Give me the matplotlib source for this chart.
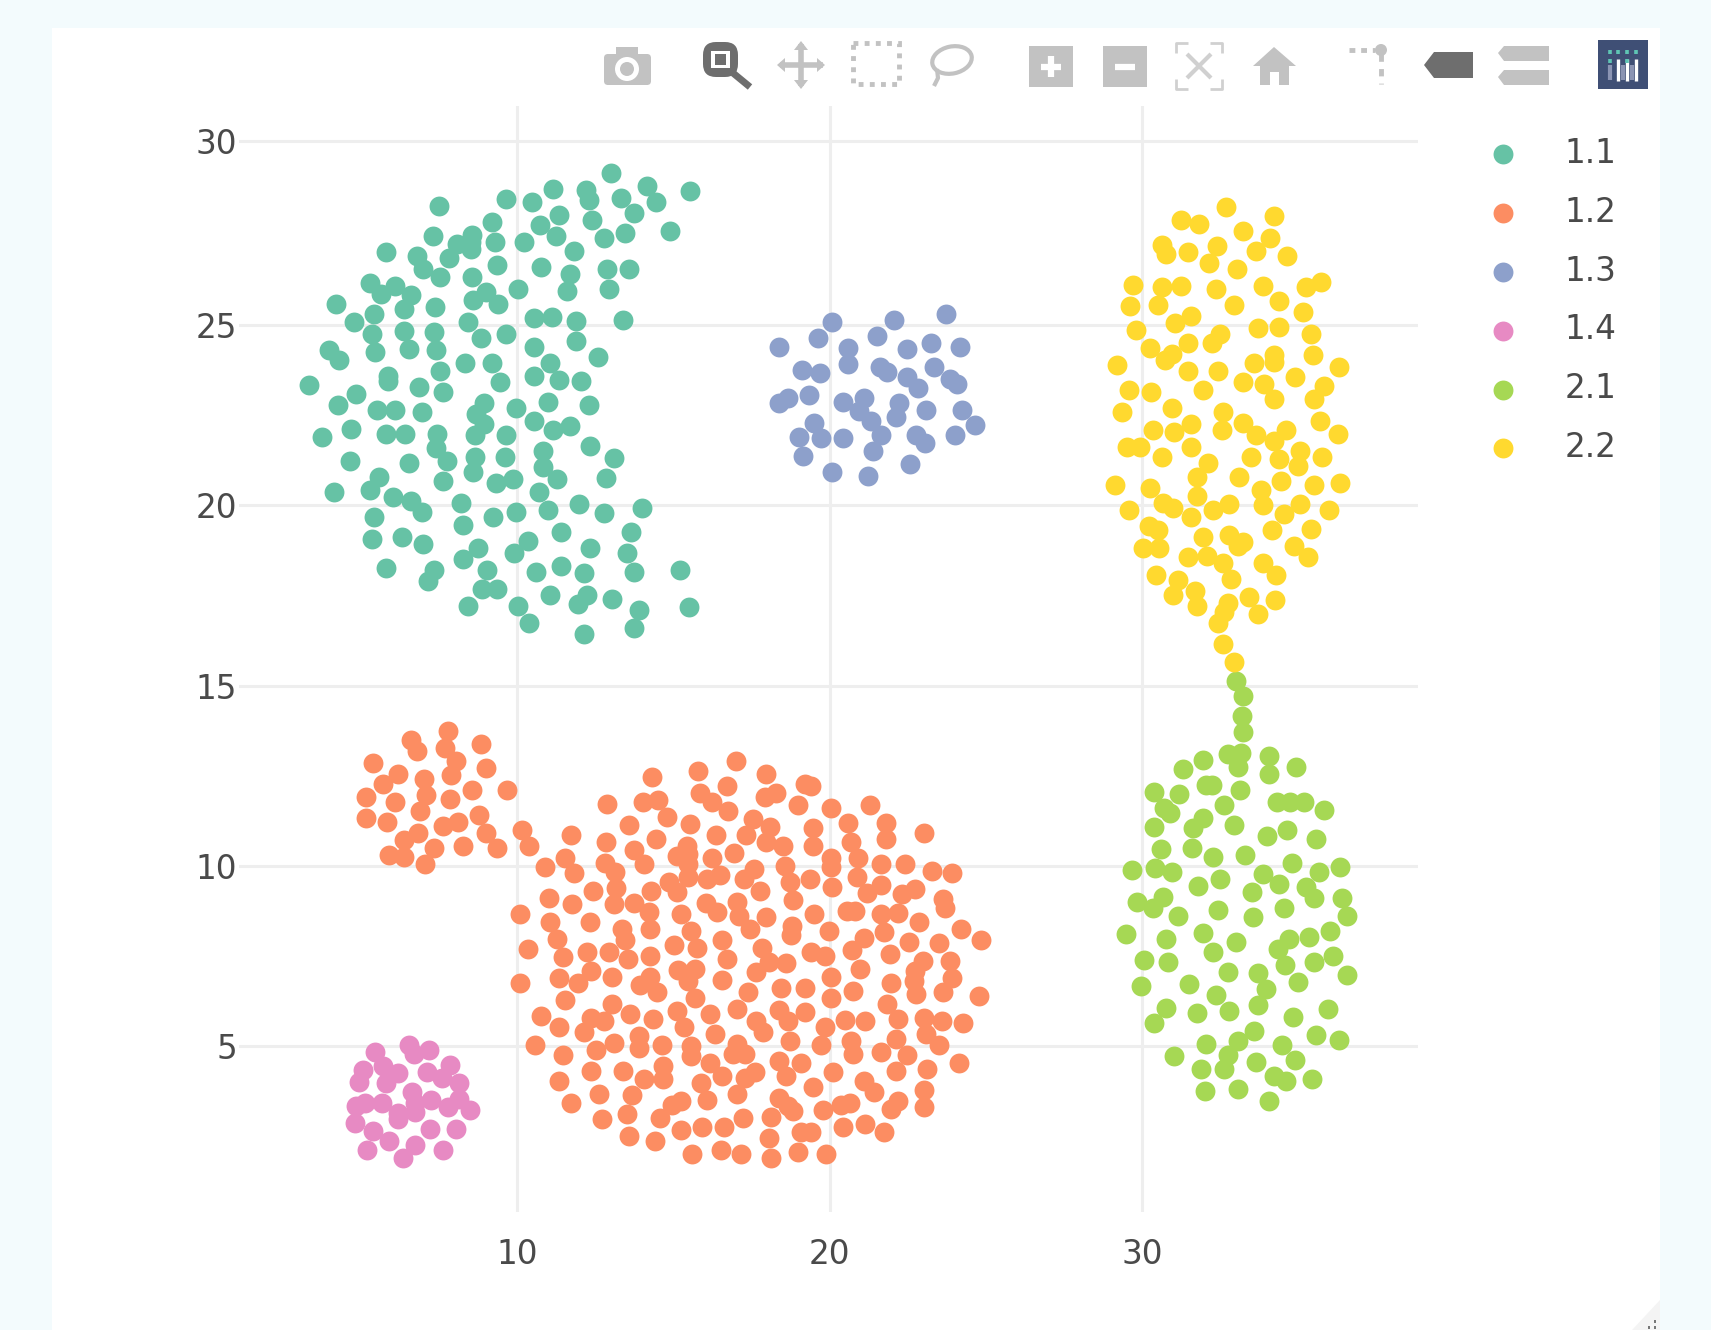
import matplotlib
matplotlib.use("Agg")
import matplotlib.pyplot as plt
from matplotlib.patches import Rectangle, FancyBboxPatch, Circle, Ellipse, Polygon

labels = ["1.1", "1.2", "1.3", "1.4", "2.1", "2.2"]
colors = ["#66c2a5", "#fc8d62", "#8da0cb", "#e78ac3", "#a6d854", "#ffd92f"]
x_ticks = [10, 20, 30]
y_ticks = [5, 10, 15, 20, 25, 30]
y_tick_labels = ["5", "10", "15", "20", "25", "30"]

pts_11 = [(13.0,29.22),(14.15,28.87),(15.54,28.72),(11.14,28.78),(12.19,28.74),(12.29,28.48),(9.65,28.51),(10.49,28.42),(13.34,28.52),(14.45,28.42),
(7.49,28.31),(13.75,28.12),(11.35,28.07),(12.39,27.92),(9.19,27.87),(10.75,27.77),(14.9,27.62),(13.46,27.56),(12.78,27.42),(8.55,27.51),
(11.24,27.46),(7.3,27.47),(8.07,27.26),(8.53,27.32),(8.52,27.11),(9.3,27.31),(10.23,27.31),(11.83,27.05),(5.81,27.02),(6.79,26.93),
(7.84,26.85),(6.98,26.56),(9.35,26.66),(10.76,26.61),(12.88,26.57),(13.59,26.57),(11.7,26.42),(7.54,26.35),(8.55,26.35),(12.93,26.0),
(11.59,25.95),(10.04,26.0),(5.3,26.17),(6.1,26.09),(6.6,25.84),(5.64,25.87),(9.0,25.91),(8.58,25.7),(9.4,25.59),(4.2,25.6),
(6.4,25.45),(7.39,25.5),(5.42,25.3),(4.79,25.1),(8.44,25.1),(10.54,25.21),(11.11,25.24),(11.9,25.11),(13.4,25.15),(5.35,24.75),
(6.4,24.84),(7.35,24.81),(9.65,24.75),(8.86,24.65),(11.89,24.55),(10.54,24.4),(7.4,24.3),(6.56,24.35),(5.46,24.26),(4.0,24.31),
(4.3,24.04),(12.6,24.11),(8.35,23.94),(9.2,23.94),(11.04,23.94),(7.55,23.74),(5.88,23.59),(5.86,23.44),(10.54,23.59),(11.35,23.49),
(12.04,23.45),(3.35,23.34),(9.46,23.41),(6.87,23.28),(7.64,23.14),(4.86,23.08),(4.29,22.79),(8.96,22.83),(11.0,22.88),(12.3,22.79),
(9.96,22.69),(5.51,22.64),(6.11,22.64),(6.95,22.58),(8.68,22.53),(10.54,22.34),(8.96,22.25),(11.71,22.19),(11.14,22.08),(4.69,22.13),
(3.78,21.89),(5.81,21.98),(6.41,21.98),(7.45,21.98),(8.66,21.94),(9.65,21.94),(7.4,21.6),(12.33,21.65),(10.84,21.52),(13.1,21.32),
(7.75,21.22),(8.66,21.33),(9.6,21.33),(4.65,21.24),(6.56,21.18),(10.84,21.07),(8.6,20.94),(5.6,20.8),(12.85,20.77),(11.29,20.72),
(9.88,20.74),(9.33,20.63),(7.64,20.67),(5.29,20.43),(4.15,20.38),(10.7,20.38),(6.04,20.23),(6.61,20.13),(8.2,20.07),(6.95,19.81),
(9.96,19.82),(11.0,19.87),(11.99,20.03),(12.78,19.78),(14.01,19.93),(5.42,19.68),(9.24,19.68),(8.28,19.46),(11.41,19.26),(13.64,19.26),
(5.35,19.06),(6.31,19.13),(7.0,18.92),(10.36,19.02),(8.74,18.83),(12.33,18.83),(9.9,18.67),(13.51,18.67),(8.28,18.52),(5.81,18.27),
(9.05,18.22),(7.35,18.22),(10.6,18.16),(11.4,18.31),(12.14,18.13),(13.74,18.16),(15.21,18.22),(7.16,17.91),(8.89,17.67),(9.35,17.69),
(11.06,17.51),(12.25,17.51),(11.94,17.26),(13.05,17.4),(8.44,17.21),(10.04,17.21),(13.9,17.11),(15.51,17.17),(10.39,16.75),(13.74,16.6),(12.14,16.42)]

pts_12 = [(7.78,13.73),(6.6,13.49),(6.79,13.18),(7.7,13.27),(8.86,13.37),(8.05,12.9),(5.41,12.86),(9.01,12.72),(6.19,12.55),(7.9,12.52),
(7.03,12.42),(5.71,12.27),(8.55,12.11),(9.69,12.11),(5.18,11.9),(7.09,11.96),(7.86,11.86),(6.1,11.76),(6.89,11.52),(5.16,11.34),
(8.8,11.41),(5.85,11.21),(8.1,11.21),(7.64,11.11),(10.15,11.0),(9.01,10.9),(6.84,10.91),(6.4,10.71),(8.28,10.55),(9.35,10.49),
(7.36,10.49),(10.39,10.55),(5.91,10.3),(6.4,10.24),(7.06,10.05),(10.9,9.97),
(16.99,12.91),(15.79,12.64),(14.31,12.48),(17.97,12.54),(16.7,12.22),(19.2,12.27),(19.41,12.22),(15.84,12.03),(18.29,12.03),(17.92,11.92),
(14.03,11.78),(14.51,11.82),(12.88,11.73),(16.24,11.76),(18.99,11.68),(20.03,11.61),(21.28,11.69),(16.75,11.51),(14.78,11.37),(17.55,11.31),
(13.58,11.13),(15.52,11.17),(20.59,11.18),(21.81,11.18),(19.47,11.06),(18.08,11.09),(23.02,10.92),(11.74,10.85),(16.35,10.86),(17.33,10.85),
(21.81,10.74),(14.43,10.76),(12.84,10.67),(17.97,10.65),(20.69,10.67),(18.49,10.55),(19.45,10.54),(15.45,10.55),(13.73,10.44),(16.93,10.37),
(15.1,10.28),(15.47,10.32),(11.55,10.23),(16.24,10.23),(20.03,10.23),(20.91,10.23),(12.8,10.09),(14.06,10.05),(15.47,10.05),(18.58,10.0),
(21.63,10.05),(22.4,10.05),(20.03,9.98),(17.58,9.91),(13.12,9.82),(11.83,9.8),(23.28,9.86),(23.92,9.8),(16.48,9.74),(15.47,9.68),
(16.06,9.63),(20.88,9.69),(19.38,9.65),(17.25,9.63),(18.72,9.56),(14.86,9.56),(13.18,9.4),(20.07,9.42),(21.63,9.46),(22.72,9.37),
(14.3,9.31),(15.13,9.28),(17.78,9.31),(12.44,9.31),(21.2,9.24),(22.32,9.21),(11.02,9.11),(18.83,9.06),(23.62,9.09),(13.09,8.94),
(13.74,8.98),(17.04,9.01),(11.77,8.95),(16.03,8.96),(23.68,8.84),(20.55,8.75),(20.8,8.75),(10.09,8.66),(14.22,8.71),(16.38,8.71),
(15.23,8.66),(19.49,8.66),(21.65,8.66),(22.19,8.69),(17.1,8.61),(17.97,8.57),(11.07,8.45),(12.32,8.45),(22.86,8.45),(18.8,8.34),
(13.36,8.24),(14.24,8.24),(17.46,8.24),(15.55,8.2),(24.21,8.24),(19.98,8.2),(21.73,8.18),(18.77,8.09),(24.83,7.95),(21.1,8.0),
(11.28,7.97),(13.44,7.94),(16.57,7.95),(22.54,7.9),(23.49,7.85),(15.02,7.81),(15.74,7.73),(17.84,7.73),(10.35,7.69),(20.72,7.66),
(19.39,7.61),(19.84,7.5),(12.93,7.6),(12.25,7.6),(21.92,7.55),(11.47,7.48),(14.26,7.5),(13.55,7.43),(23.84,7.36),(22.98,7.36),
(16.7,7.41),(18.06,7.34),(18.61,7.3),(12.38,7.09),(15.15,7.11),(15.7,7.13),(20.96,7.15),(17.63,7.06),(22.72,7.09),(11.34,6.88),
(13.04,6.92),(20.03,6.93),(23.92,6.9),(14.26,6.93),(16.57,6.84),(15.47,6.81),(10.09,6.76),(11.95,6.74),(22.7,6.81),(21.97,6.76),
(13.94,6.7),(18.43,6.6),(19.22,6.6),(20.75,6.53),(17.39,6.49),(23.63,6.49),(14.49,6.51),(22.77,6.44),(24.78,6.39),(20.03,6.35),
(11.55,6.28),(15.68,6.35),(21.83,6.18),(13.03,6.18),(17.04,6.04),(18.38,5.99),(15.12,5.98),(13.62,5.89),(19.22,5.95),(16.16,5.89),
(10.78,5.84),(23.01,5.77),(22.19,5.75),(23.59,5.7),(20.5,5.73),(21.14,5.7),(17.63,5.7),(12.38,5.79),(12.77,5.7),(14.35,5.75),
(18.67,5.7),(24.26,5.64),(11.34,5.54),(15.34,5.52),(19.84,5.52),(12.14,5.38),(16.32,5.33),(17.87,5.38),(23.09,5.33),(13.9,5.28),
(22.13,5.21),(10.57,5.04),(18.72,5.15),(17.04,5.07),(13.1,5.08),(20.69,5.15),(23.49,5.03),(14.64,5.03),(15.55,5.0),(19.73,5.03),
(12.54,4.9),(13.9,4.96),(21.63,4.84),(11.47,4.75),(20.75,4.78),(22.48,4.75),(17.28,4.79),(16.91,4.78),(15.55,4.73),(24.14,4.53),
(18.38,4.59),(16.18,4.54),(19.09,4.54),(14.67,4.45),(23.12,4.38),(12.38,4.31),(13.39,4.31),(22.13,4.31),(20.11,4.27),(17.6,4.27),
(16.54,4.17),(18.61,4.17),(17.28,4.13),(14.06,4.08),(14.67,4.08),(11.34,4.04),(21.09,4.04),(15.87,3.99),(19.45,3.88),(23.02,3.79),
(12.62,3.68),(17.04,3.68),(21.41,3.73),(13.69,3.65),(18.38,3.57),(11.74,3.42),(15.23,3.48),(16.06,3.51),(22.19,3.48),(20.64,3.42),
(20.37,3.37),(14.94,3.37),(18.67,3.34),(23.02,3.31),(19.79,3.23),(21.97,3.25),(18.83,3.2),(13.53,3.11),(12.73,2.97),(17.23,3.02),
(18.13,3.04),(14.58,3.02),(15.92,2.77),(16.61,2.77),(21.14,2.83),(20.43,2.77),(15.23,2.68),(19.09,2.63),(19.41,2.63),(21.74,2.63),
(13.58,2.51),(18.06,2.45),(14.42,2.38),(16.51,2.12),(18.99,2.07),(15.61,2.0),(17.17,2.0),(19.89,2.0),(18.13,1.91)]

pts_13 = [(23.72,25.31),(20.06,25.10),(22.07,25.15),(19.64,24.64),(21.52,24.69),(18.37,24.39),(20.59,24.36),(22.47,24.35),(23.23,24.51),(24.17,24.39),
(20.58,23.92),(21.62,23.85),(21.83,23.70),(23.33,23.85),(19.12,23.75),(19.69,23.67),(22.47,23.55),(23.84,23.50),(24.08,23.36),(22.81,23.25),
(18.67,22.99),(18.37,22.84),(19.33,23.05),(20.43,22.88),(21.09,22.99),(20.93,22.63),(22.22,22.84),(22.13,22.44),(23.07,22.64),(24.22,22.65),
(21.32,22.35),(19.49,22.28),(24.63,22.24),(19.03,21.91),(19.73,21.87),(20.43,21.88),(21.63,21.94),(22.77,21.96),(23.04,21.73),(24.01,21.94),
(21.38,21.50),(19.13,21.38),(22.58,21.14),(20.06,20.93),(21.23,20.83)]

pts_14 = [(6.55,5.04),(5.46,4.83),(7.2,4.88),(6.72,4.78),(7.86,4.48),(5.7,4.44),(5.09,4.33),(6.2,4.25),(7.11,4.27),(7.61,4.11),
(4.95,4.02),(5.8,3.99),(8.16,3.99),(6.65,3.74),(8.14,3.53),(7.24,3.51),(5.14,3.42),(5.69,3.42),(4.84,3.33),(6.74,3.42),
(7.8,3.31),(8.5,3.22),(6.2,3.14),(6.74,3.17),(6.2,2.97),(4.82,2.86),(7.22,2.7),(8.05,2.7),(5.4,2.65),(5.91,2.37),
(6.74,2.26),(5.19,2.12),(7.64,2.11),(6.36,1.89)]

pts_21 = [(32.99,15.14),(33.23,14.71),(33.18,14.16),(33.23,13.71),(33.16,13.14),(32.72,13.11),(31.93,12.94),(34.03,13.06),(31.28,12.69),(33.07,12.74),
(34.91,12.75),(34.03,12.54),(32.22,12.25),(32.04,12.25),(33.12,12.11),(30.38,12.04),(31.18,12.0),(32.62,11.69),(34.3,11.76),(34.72,11.76),
(35.17,11.76),(30.7,11.62),(35.79,11.55),(30.88,11.46),(31.93,11.34),(30.38,11.09),(31.63,11.06),(32.94,11.14),(34.62,11.0),(33.98,10.84),
(35.54,10.75),(30.6,10.47),(31.58,10.49),(32.27,10.24),(33.29,10.29),(34.78,10.07),(36.32,9.98),(29.68,9.89),(30.41,9.94),(30.94,9.84),
(33.84,9.78),(35.63,9.84),(32.48,9.63),(34.38,9.49),(31.77,9.45),(35.22,9.41),(33.5,9.29),(35.49,9.1),(30.67,9.15),(36.38,9.1),
(29.82,8.99),(30.33,8.83),(32.43,8.78),(34.51,8.84),(31.14,8.62),(33.53,8.58),(36.54,8.62),(29.48,8.12),(31.93,8.13),(36.0,8.2),
(35.34,8.02),(34.69,7.98),(30.74,7.98),(32.99,7.88),(34.33,7.69),(32.27,7.62),(36.09,7.49),(30.06,7.38),(30.83,7.33),(35.47,7.33),
(34.56,7.24),(32.72,7.07),(33.68,7.04),(36.54,6.98),(34.97,6.77),(29.96,6.67),(31.49,6.72),(33.94,6.58),(32.35,6.42),(33.69,6.15),
(30.74,6.07),(35.93,6.04),(31.74,5.92),(32.78,5.98),(34.8,5.82),(30.38,5.64),(33.57,5.42),(35.54,5.31),(36.29,5.18),(33.04,5.13),
(32.04,5.06),(34.46,5.02),(32.75,4.76),(31.02,4.73),(34.88,4.62),(33.62,4.57),(31.88,4.36),(32.62,4.36),(34.19,4.18),(34.58,4.04),
(35.42,4.08),(33.04,3.82),(32.0,3.77),(34.03,3.47)]

pts_22 = [(32.68,28.27),(34.19,28.04),(31.24,27.91),(31.82,27.81),(33.23,27.62),(34.08,27.42),(30.64,27.23),(32.38,27.19),(30.76,26.98),(31.44,27.02),
(33.62,27.06),(34.63,26.93),(32.14,26.72),(33.02,26.56),(29.69,26.12),(30.64,26.06),(31.24,26.1),(32.35,26.01),(33.84,26.1),(35.7,26.21),
(35.22,26.06),(29.61,25.54),(30.49,25.55),(34.38,25.66),(32.93,25.55),(35.13,25.36),(31.55,25.26),(31.03,25.06),(29.8,24.87),(33.68,24.92),
(34.38,24.96),(35.38,24.75),(32.48,24.76),(32.22,24.5),(31.44,24.5),(30.25,24.36),(30.94,24.2),(30.72,24.04),(35.44,24.16),(34.22,24.16),
(29.2,23.9),(33.57,23.94),(34.22,23.99),(36.29,23.85),(31.44,23.74),(32.43,23.74),(34.88,23.56),(33.23,23.42),(33.87,23.36),(35.82,23.3),
(29.58,23.2),(30.28,23.14),(31.93,23.2),(34.19,22.94),(35.49,22.94),(30.94,22.69),(32.59,22.6),(29.34,22.6),(35.68,22.34),(33.23,22.3),
(31.55,22.25),(30.33,22.09),(31.02,22.05),(32.54,22.09),(34.58,22.09),(36.24,21.98),(33.62,21.94),(34.21,21.79),(29.5,21.63),(29.93,21.63),
(31.55,21.63),(35.04,21.52),(30.64,21.33),(33.48,21.33),(34.37,21.28),(35.74,21.33),(32.09,21.19),(34.96,21.09),(31.74,20.78),(33.08,20.78),
(34.44,20.68),(29.13,20.56),(36.32,20.63),(35.47,20.56),(30.25,20.49),(33.78,20.43),(31.74,20.27),(30.67,20.07),(33.84,20.01),(32.77,20.03),
(35.04,20.03),(30.99,19.94),(29.58,19.87),(32.27,19.87),(35.95,19.87),(34.53,19.75),(31.55,19.69),(30.22,19.44),(30.51,19.31),(34.14,19.31),
(35.38,19.34),(32.77,19.19),(31.93,19.13),(33.23,18.99),(33.04,18.88),(34.83,18.88),(30.03,18.82),(30.54,18.81),(35.29,18.56),(32.06,18.6),
(31.47,18.56),(32.59,18.39),(33.84,18.41),(30.44,18.06),(34.28,18.06),(32.83,17.97),(31.15,17.93),(31.68,17.63),(30.97,17.51),(33.42,17.46),
(34.24,17.37),(32.72,17.3),(31.74,17.2),(32.62,17.05),(33.68,17.0),(32.43,16.74),(32.59,16.15),(32.93,15.67)]

series = [pts_11, pts_12, pts_13, pts_14, pts_21, pts_22]

W, H = 1711, 1330
PAGE = "#f3fbfd"
GRAY = "#c2c2c2"
DARK = "#6e6e6e"
TXT = "#4a4a4a"
plt.rcParams["font.family"] = ["DejaVu Sans"]
FS = 23.5

fig = plt.figure(figsize=(W / 100, H / 100), dpi=100, facecolor=PAGE)

# page layer in pixel coordinates: white panel and modebar
bg = fig.add_axes([0, 0, 1, 1], zorder=0)
bg.set_xlim(0, W)
bg.set_ylim(H, 0)
bg.axis("off")
bg.add_patch(Rectangle((52, 28), 1608, H - 28, fc="white", ec="none"))


def line(xs, ys, c=GRAY, lw=2.5, **kw):
    bg.plot(xs, ys, color=c, lw=lw, solid_capstyle="butt", **kw)


# camera
bg.add_patch(FancyBboxPatch((604, 54), 47, 31, boxstyle="round,pad=0,rounding_size=4", fc=GRAY, ec="none"))
bg.add_patch(Rectangle((616, 47), 22, 10, fc=GRAY, ec="none"))
bg.add_patch(Circle((627, 69), 12, fc="white", ec="none"))
bg.add_patch(Circle((627, 69), 7, fc=GRAY, ec="none"))
# zoom (active)
bg.add_patch(FancyBboxPatch((703, 42), 35, 35, boxstyle="round,pad=0,rounding_size=13", fc=DARK, ec="none"))
bg.add_patch(Rectangle((711, 51), 19, 17, fc="white", ec="none"))
bg.add_patch(Rectangle((715, 54), 11, 11, fc=DARK, ec="none"))
line([733, 750], [73, 87], c=DARK, lw=5)
# pan
line([801, 801], [44, 86], lw=4)
line([780, 823], [65, 65], lw=4)
for p in ([(794, 50), (808, 50), (801, 41)], [(794, 80), (808, 80), (801, 89)],
          [(785, 58), (785, 72), (777, 65)], [(817, 58), (817, 72), (825, 65)]):
    bg.add_patch(Polygon(p, fc=GRAY, ec="none"))
# box select
bg.add_patch(Rectangle((853, 43), 46, 41, fc="none", ec=GRAY, lw=3.5, ls=(0, (1, 1.3))))
# lasso
bg.add_patch(Ellipse((952, 60), 40, 27, angle=-12, fc="none", ec=GRAY, lw=3))
line([937, 938, 934], [69, 78, 86], lw=3)
# zoom in / out
for x0, sym in ((1029, "+"), (1103, "-")):
    bg.add_patch(Rectangle((x0, 46), 44, 41, fc=GRAY, ec="none"))
    line([x0 + 12, x0 + 32], [66.5, 66.5], c="white", lw=4.5)
    if sym == "+":
        line([x0 + 22, x0 + 22], [56, 77], c="white", lw=4.5)
# autoscale
for cx, sx in ((1176, 1), (1222, -1)):
    for cy, sy in ((43, 1), (89, -1)):
        line([cx + 12 * sx, cx, cx], [cy, cy, cy + 10 * sy], c="#d0d0d0", lw=2)
line([1187, 1211], [54, 78], c="#d0d0d0", lw=3)
line([1187, 1211], [78, 54], c="#d0d0d0", lw=3)
# home
bg.add_patch(Polygon([(1253, 66), (1274, 47), (1296, 66), (1289, 66), (1289, 85), (1279, 85),
                      (1279, 72), (1270, 72), (1270, 85), (1260, 85), (1260, 66)], fc=GRAY, ec="none"))
# spikes
line([1349, 1375], [50, 50], lw=3.5, ls=(0, (1.2, 1.2)))
line([1381, 1381], [54, 84], lw=3.5, ls=(0, (1.5, 1.5)))
bg.add_patch(Circle((1381, 50), 6, fc=GRAY, ec="none"))
# hover closest / compare
bg.add_patch(Polygon([(1424, 65), (1434, 52), (1473, 52), (1473, 78), (1434, 78)], fc=DARK, ec="none"))
bg.add_patch(Polygon([(1498, 53), (1504, 46), (1549, 46), (1549, 61), (1504, 61)], fc=GRAY, ec="none"))
bg.add_patch(Polygon([(1498, 77), (1504, 70), (1549, 70), (1549, 85), (1504, 85)], fc=GRAY, ec="none"))
# logo
bg.add_patch(Rectangle((1598, 40), 50, 49, fc="#3f4f75", ec="none"))
for xb in (1610, 1623, 1632):
    line([xb, xb], [65, 80], c="#8b94b3", lw=3)
for xb in (1618, 1627, 1636):
    line([xb, xb], [59, 81], c="white", lw=2.4)
for xb in (1610, 1618, 1627, 1636):
    line([xb, xb], [50, 54], c="#5fc5b4", lw=2.6)
for xb in (1610, 1627):
    line([xb, xb], [59, 63], c="#5fc5b4", lw=2.6)
# resize handle
bg.add_patch(Polygon([(1632, 1330), (1660, 1300), (1660, 1330)], fc="#f4f4f4", ec="none"))
for hx, hy in ((1654, 1320), (1648, 1326), (1654, 1326)):
    bg.add_patch(Rectangle((hx, hy), 2.5, 2.5, fc="#777777", ec="none"))

# plot area
L, R, T, B = 239, 1418, 106, 1212
ax = fig.add_axes([L / W, 1 - B / H, (R - L) / W, (B - T) / H], zorder=1)
ax.patch.set_alpha(0)
ax.set_xlim(1.11, 38.81)
ax.set_ylim(0.40, 31.08)
for s in ax.spines.values():
    s.set_visible(False)
ax.set_axisbelow(True)
ax.grid(True, color="#eeeeee", lw=2.2)
ax.set_xticks(x_ticks)
ax.set_yticks([v + (0.1 if v == 30 else 0) for v in y_ticks], y_tick_labels)  # top line sits slightly high in the reference
ax.tick_params(length=0, labelsize=FS, labelcolor=TXT)
ax.tick_params(axis="x", pad=19)
ax.tick_params(axis="y", pad=1.5)

for pts, lab, col in zip(series, labels, colors):
    xs = [p[0] for p in pts]
    ys = [p[1] for p in pts]
    ax.scatter(xs, ys, s=205, c=col, linewidths=0, label=lab, clip_on=False, zorder=3)

leg = ax.legend(loc="upper left", bbox_to_anchor=(1483.4 / W, 1 - 137 / H), bbox_transform=fig.transFigure,
                frameon=False, fontsize=FS, labelspacing=0.79, handletextpad=1.28, borderpad=0, borderaxespad=0,
                handlelength=1.2, markerscale=1)
for t in leg.get_texts():
    t.set_color(TXT)

fig.savefig("out.png", dpi=100, facecolor=PAGE)
